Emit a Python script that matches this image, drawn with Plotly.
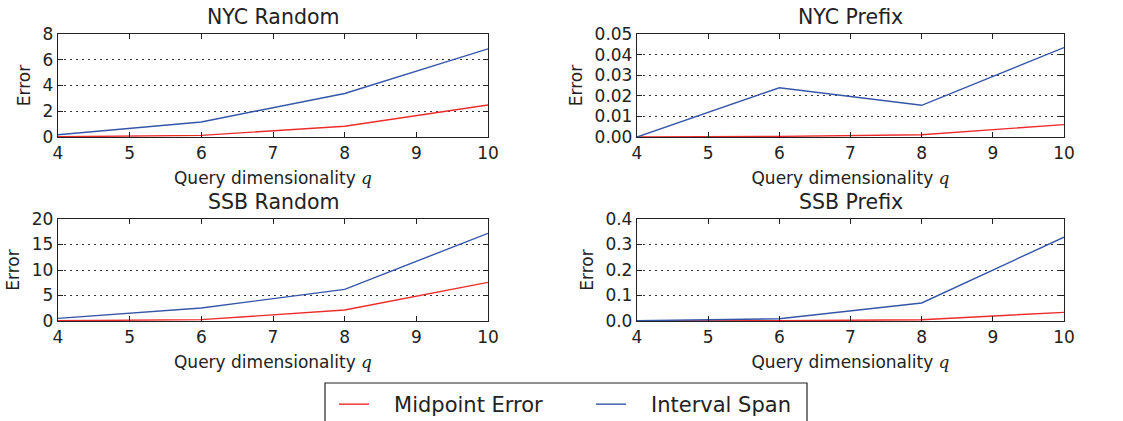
import plotly.graph_objects as go

W, H = 1123, 421

q = [4, 6, 8, 10]

nyc_random_mid = [0.02, 0.13, 0.84, 2.49]
nyc_random_span = [0.18, 1.17, 3.38, 6.85]
nyc_prefix_mid = [0.0, 0.0003, 0.0011, 0.006]
nyc_prefix_span = [0.0, 0.0239, 0.0154, 0.0434]
ssb_random_mid = [0.05, 0.26, 2.16, 7.58]
ssb_random_span = [0.52, 2.55, 6.2, 17.2]
ssb_prefix_mid = [0.0, 0.001, 0.005, 0.034]
ssb_prefix_span = [0.001, 0.009, 0.0706, 0.329]

titles = ["NYC Random", "NYC Prefix", "SSB Random", "SSB Prefix"]
series_names = ["Midpoint Error", "Interval Span"]
y_ranges = [[0, 8], [0, 0.05], [0, 20], [0, 0.4]]
y_dticks = [2, 0.01, 5, 0.1]
y_formats = ["d", ".2f", "d", ".1f"]

RED = "#ee2b2b"
BLUE = "#3555a8"
FONT = "DejaVu Sans"
TXT = "#222222"
PAD = "\u00a0\u00a0\u00a0"

# panel pixel boxes (left, right, top, bottom)
boxes = [(58, 488, 34, 137), (637, 1064, 34, 137),
         (58, 488, 219, 321), (637, 1064, 219, 321)]

data = [(nyc_random_mid, nyc_random_span), (nyc_prefix_mid, nyc_prefix_span),
        (ssb_random_mid, ssb_random_span), (ssb_prefix_mid, ssb_prefix_span)]

fig = go.Figure()
annotations = []
for i, ((mid, span), (l, r, t, b)) in enumerate(zip(data, boxes)):
    n = "" if i == 0 else str(i + 1)
    xa, ya = "x" + n, "y" + n
    fig.add_trace(go.Scatter(x=q, y=mid, mode="lines", name=PAD + series_names[0],
                             line=dict(color=RED, width=1.4), xaxis=xa, yaxis=ya,
                             showlegend=(i == 0), legendgroup="mid"))
    fig.add_trace(go.Scatter(x=q, y=span, mode="lines", name=PAD + series_names[1],
                             line=dict(color=BLUE, width=1.4), xaxis=xa, yaxis=ya,
                             showlegend=(i == 0), legendgroup="span"))
    common = dict(showline=True, linecolor="#222222", linewidth=1.3, mirror="ticks",
                  ticks="inside", ticklen=5, tickwidth=1, tickcolor="#222222",
                  tickfont=dict(family=FONT, size=17, color=TXT), zeroline=False)
    fig.layout["xaxis" + n] = dict(
        domain=[l / W, r / W], anchor=ya, range=[4, 10], dtick=1, tick0=4,
        showgrid=False,
        title=dict(text="Query dimensionality <span style=\"font-family:DejaVu Serif\"><i>q</i></span>",
                   font=dict(family=FONT, size=17, color=TXT), standoff=10),
        **common)
    fig.layout["yaxis" + n] = dict(
        domain=[1 - b / H, 1 - t / H], anchor=xa, range=y_ranges[i],
        dtick=y_dticks[i], tick0=0, tickformat=y_formats[i],
        showgrid=True, gridcolor="#333333", griddash="1.5px,4.5px", gridwidth=1,
        title=dict(text="Error", font=dict(family=FONT, size=17, color=TXT), standoff=7),
        **common)
    annotations.append(dict(text=titles[i], x=(l + r) / 2 / W, y=1 - (t - 3) / H,
                            xref="paper", yref="paper", xanchor="center", yanchor="bottom",
                            showarrow=False, font=dict(family=FONT, size=20.5, color=TXT)))

fig.update_layout(
    width=W, height=H, margin=dict(l=0, r=0, t=0, b=0, autoexpand=False),
    paper_bgcolor="white", plot_bgcolor="white",
    annotations=annotations,
    shapes=[dict(type="rect", xref="paper", yref="paper",
                 x0=325 / W, x1=807 / W, y0=-10 / H, y1=1 - 383 / H,
                 line=dict(color="#222222", width=1.2), fillcolor="rgba(0,0,0,0)",
                 layer="below")],
    showlegend=True,
    legend=dict(orientation="h", x=334 / W, y=1 - 384 / H, xanchor="left", yanchor="top",
                borderwidth=0, bgcolor="rgba(0,0,0,0)",
                font=dict(family=FONT, size=21, color=TXT),
                entrywidth=212, itemwidth=30, tracegroupgap=0),
)

fig.write_html("out.html")
